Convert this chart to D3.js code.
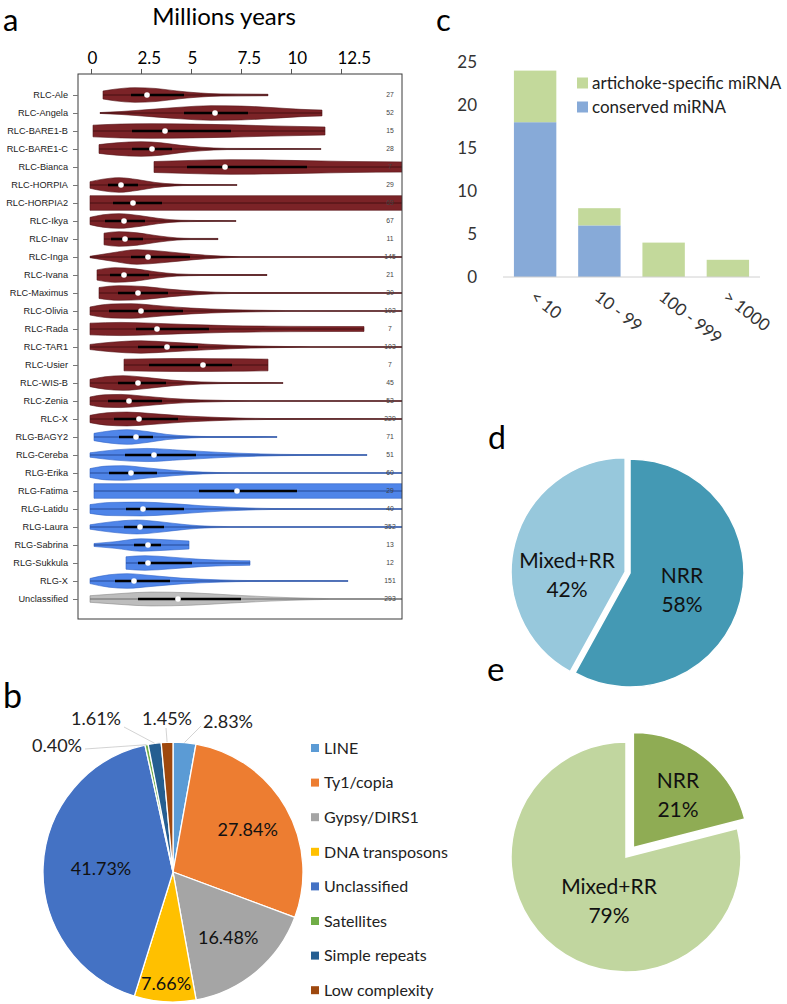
<!DOCTYPE html>
<html><head><meta charset="utf-8">
<script src="https://cdn.jsdelivr.net/npm/d3@7"></script>
<style>body{margin:0;background:#fff}svg{display:block}</style>
</head><body>
<svg id="chart" width="787" height="1004"></svg>
<script>
// ---------------- DATA ----------------
// Panel a: violin plots of insertion age (millions of years)
const vioNames = ["RLC-Ale","RLC-Angela","RLC-BARE1-B","RLC-BARE1-C","RLC-Bianca","RLC-HORPIA","RLC-HORPIA2","RLC-Ikya","RLC-Inav","RLC-Inga","RLC-Ivana","RLC-Maximus","RLC-Olivia","RLC-Rada","RLC-TAR1","RLC-Usier","RLC-WIS-B","RLC-Zenia","RLC-X","RLG-BAGY2","RLG-Cereba","RLG-Erika","RLG-Fatima","RLG-Latidu","RLG-Laura","RLG-Sabrina","RLG-Sukkula","RLG-X","Unclassified"];
const vioGroup = ["RLC","RLC","RLC","RLC","RLC","RLC","RLC","RLC","RLC","RLC","RLC","RLC","RLC","RLC","RLC","RLC","RLC","RLC","RLC","RLG","RLG","RLG","RLG","RLG","RLG","RLG","RLG","RLG","U"];
const vioCounts = [27,52,15,28,7,29,69,67,11,145,21,30,102,7,103,7,45,53,229,71,51,60,29,40,352,13,12,151,293];
const vioMedian = [2.8,6.2,3.7,3.05,6.7,1.5,2.1,1.65,1.7,2.85,1.65,2.35,2.5,3.3,3.8,5.6,2.35,1.9,2.4,2.25,3.15,2.0,7.3,2.6,2.45,2.85,2.85,2.15,4.35];
const vioQ1 = [2.0,4.65,2.05,2.05,4.8,0.85,1.1,0.7,1.0,2.0,0.95,1.35,0.9,2.25,2.35,2.9,1.35,0.85,1.15,1.4,1.7,0.9,5.4,1.75,1.65,2.15,2.35,1.2,2.35];
const vioQ3 = [4.65,7.85,7.0,4.05,10.8,2.35,3.55,2.7,2.6,4.95,2.9,3.85,4.6,5.9,5.35,7.05,3.75,3.55,4.35,3.1,5.25,3.3,10.3,4.65,3.65,3.5,5.05,3.95,7.5];
// density profile of each violin: [age, relative half-width]
const vioShape = [
  [[0.6,0.55],[1.2,0.8],[2.2,1.0],[3.2,0.9],[4.3,0.55],[5.3,0.3],[6.5,0.15],[8.85,0.1]],
  [[0.45,0.06],[1.5,0.2],[3,0.5],[4.5,0.8],[6,1.0],[7.5,0.95],[9,0.75],[10.5,0.5],[11.55,0.4]],
  [[0.1,0.8],[1.5,0.95],[3,1.0],[5,0.95],[7,0.85],[9,0.7],[11.7,0.55]],
  [[0.4,0.6],[1.3,0.85],[2.5,1.0],[3.5,0.85],[4.5,0.5],[5.5,0.25],[6.8,0.08],[11.5,0.05]],
  [[3.15,0.75],[5,0.9],[7,1.0],[9,0.95],[11,0.85],[13,0.75],[15.6,0.7]],
  [[-0.05,0.45],[0.6,0.8],[1.4,1.0],[2.3,0.75],[3.2,0.35],[4.2,0.12],[5,0.06],[7.3,0.05]],
  [[-0.05,1.0],[15.6,1.0]],
  [[-0.05,0.5],[0.6,0.85],[1.4,1.0],[2.4,0.75],[3.4,0.35],[4.5,0.1],[5.5,0.06],[7.25,0.05]],
  [[0.65,0.8],[1.4,1.0],[2.3,0.85],[3.3,0.45],[4.3,0.15],[5,0.08],[6.35,0.08]],
  [[-0.05,0.1],[1,0.55],[2.3,1.0],[3.5,0.8],[5,0.4],[6.5,0.12],[7.5,0.05],[15.6,0.04]],
  [[0.3,0.7],[1.2,1.0],[2.2,0.85],[3.2,0.45],[4.3,0.15],[5.5,0.07],[8.8,0.06]],
  [[0.4,0.75],[1.4,1.0],[2.6,0.9],[4,0.5],[5.5,0.2],[7,0.07],[15.6,0.04]],
  [[-0.05,0.55],[1,0.95],[2,1.0],[3.5,0.7],[5,0.4],[7,0.18],[9,0.08],[10.5,0.05],[15.6,0.04]],
  [[-0.05,0.8],[1.5,0.9],[3,0.8],[5,0.6],[7,0.45],[9,0.38],[11,0.35],[13.65,0.33]],
  [[-0.05,0.35],[1,0.65],[2.5,0.85],[4,0.65],[6,0.35],[8,0.15],[10,0.06],[11,0.04],[15.6,0.04]],
  [[1.65,0.8],[3,0.85],[5,0.9],[7,0.85],[8.85,0.8]],
  [[-0.05,0.5],[0.7,0.85],[1.6,1.0],[2.8,0.75],[4,0.4],[5.5,0.15],[7.3,0.06],[9.6,0.05]],
  [[-0.05,0.55],[0.7,0.85],[1.5,0.9],[2.5,0.7],[4,0.35],[5.5,0.15],[8,0.05],[15.6,0.04]],
  [[-0.05,0.5],[0.8,0.85],[1.8,0.95],[3,0.75],[4.5,0.45],[6.5,0.2],[9,0.06],[15.6,0.04]],
  [[0.15,0.5],[1,0.85],[1.8,1.0],[2.8,0.75],[3.8,0.35],[5,0.12],[6,0.06],[9.3,0.05]],
  [[-0.05,0.3],[1.2,0.7],[2.8,0.9],[4.5,0.65],[6.5,0.35],[8.5,0.15],[10.5,0.06],[13.8,0.05]],
  [[-0.05,0.6],[0.8,0.95],[1.6,1.0],[2.8,0.7],[4.2,0.35],[5.6,0.12],[7,0.05],[15.6,0.04]],
  [[0.15,1.0],[15.6,1.0]],
  [[-0.05,0.6],[1,0.9],[2.5,0.95],[4,0.75],[5.5,0.45],[7.5,0.18],[9,0.07],[15.6,0.04]],
  [[-0.05,0.3],[1,0.7],[2.3,0.95],[3.5,0.7],[4.8,0.3],[6,0.1],[7,0.05],[15.6,0.04]],
  [[0.15,0.2],[1.2,0.45],[2.5,0.85],[3.5,0.75],[4.9,0.55]],
  [[1.75,0.85],[2.7,1.0],[4,0.8],[5.5,0.5],[7,0.35],[7.95,0.3]],
  [[-0.05,0.35],[0.9,0.85],[1.8,1.0],[3,0.75],[4.5,0.4],[6.5,0.15],[8,0.06],[12.85,0.05]],
  [[-0.05,0.45],[1.5,0.75],[3,0.95],[5,0.85],[7,0.55],[9,0.28],[11,0.1],[12,0.05],[15.6,0.04]]
];
const ageTicks = [0,2.5,5,7.5,10,12.5];

// Panel b: repeat composition
const repeatNames = ["LINE","Ty1/copia","Gypsy/DIRS1","DNA transposons","Unclassified","Satellites","Simple repeats","Low complexity"];
const repeatPct = [2.83,27.84,16.48,7.66,41.73,0.40,1.61,1.45];
const repeatColors = ["#5b9bd5","#ed7d31","#a5a5a5","#ffc000","#4472c4","#70ad47","#255e91","#9e480e"];

// Panel c: miRNA counts by abundance class
const mirnaCats = ["< 10","10 - 99","100 - 999","> 1000"];
const mirnaConserved = [18,6,0,0];
const mirnaSpecific = [6,2,4,2];
const mirnaTicks = [0,5,10,15,20,25];

// Panels d and e
const dNames = ["NRR","Mixed+RR"];
const dValues = [58,42];
const eNames = ["NRR","Mixed+RR"];
const eValues = [21,79];

// ---------------- DRAW ----------------
const CAL = "Lato, 'Open Sans', sans-serif";
const ARIAL = "'Liberation Sans', Arial, sans-serif";
const svg = d3.select("#chart");

// panel letters
const letters = [["a",3,31,31],["b",3,708,34],["c",436,31,31],["d",488,449,32],["e",487,681,33]];
svg.selectAll("text.letter").data(letters).join("text").attr("class","letter")
  .attr("x",d=>d[1]).attr("y",d=>d[2]).text(d=>d[0])
  .style("font-family",CAL).style("font-size",d=>d[3]+"px").attr("fill","#000");

// ===== Panel a =====
const box = {x0:78, x1:402, y0:74, y1:619};
const ax = d3.scaleLinear().domain([0,12.5]).range([91,341]);
const ay = d3.scalePoint().domain(vioNames).range([95,599]);
const pal = {
  RLC:{fill:"#7b2327", stroke:"#561417", line:"#3a0a0c"},
  RLG:{fill:"#4f85e9", stroke:"#3365c8", line:"#1c3a80"},
  U:{fill:"#bdbdbd", stroke:"#8c8c8c", line:"#555"}
};
const HW = 7.3;
svg.append("text").attr("x",224).attr("y",25).attr("text-anchor","middle")
  .style("font-family",CAL).style("font-size","24px").text("Millions years");

svg.append("defs").append("clipPath").attr("id","clipA").append("rect")
  .attr("x",box.x0).attr("y",box.y0).attr("width",box.x1-box.x0).attr("height",box.y1-box.y0);

const gA = svg.append("g").attr("clip-path","url(#clipA)");
vioNames.forEach((n,i)=>{
  const cy = ay(n), c = pal[vioGroup[i]], sh = vioShape[i];
  const area = d3.area().x(d=>ax(d[0])).y0(d=>cy - d[1]*HW).y1(d=>cy + d[1]*HW).curve(d3.curveMonotoneX);
  gA.append("path").attr("d",area(sh)).attr("fill",c.fill).attr("stroke",c.stroke).attr("stroke-width",0.6);
  gA.append("line").attr("x1",ax(sh[0][0])).attr("x2",ax(sh[sh.length-1][0])).attr("y1",cy).attr("y2",cy)
    .attr("stroke",c.line).attr("stroke-width",0.8);
  gA.append("line").attr("x1",ax(vioQ1[i])).attr("x2",ax(vioQ3[i])).attr("y1",cy).attr("y2",cy)
    .attr("stroke","#000").attr("stroke-width",2.6);
  gA.append("circle").attr("cx",ax(vioMedian[i])).attr("cy",cy).attr("r",2.8).attr("fill","#fff");
});
// counts
svg.selectAll("text.cnt").data(vioNames).join("text").attr("class","cnt")
  .attr("x",390).attr("y",d=>ay(d)).attr("dy","0.35em").attr("text-anchor","middle")
  .style("font-family",ARIAL).style("font-size","6.8px").attr("fill","#444")
  .text((d,i)=>vioCounts[i]);
// box
svg.append("rect").attr("x",box.x0).attr("y",box.y0).attr("width",box.x1-box.x0).attr("height",box.y1-box.y0)
  .attr("fill","none").attr("stroke","#3a3a3a").attr("stroke-width",1);
// top axis
const topAxis = svg.append("g").attr("transform",`translate(0,${box.y0})`)
  .call(d3.axisTop(ax).tickValues(ageTicks).tickSize(5).tickPadding(5).tickFormat(d3.format("")));
topAxis.select(".domain").remove();
topAxis.selectAll("line").attr("stroke","#555");
topAxis.selectAll("text").attr("text-anchor","start").attr("dx",-4)
  .style("font-family",CAL).style("font-size","17px").attr("fill","#000");
// left axis
const leftAxis = svg.append("g").attr("transform",`translate(${box.x0},0)`)
  .call(d3.axisLeft(ay).tickSize(5).tickPadding(5));
leftAxis.select(".domain").remove();
leftAxis.selectAll("line").attr("stroke","#777");
leftAxis.selectAll("text").style("font-family",ARIAL).style("font-size","9.2px").attr("fill","#222");

// ===== Panel b =====
const bC = [173,872], bR = 130;
const gB = svg.append("g").attr("transform",`translate(${bC[0]},${bC[1]})`);
const pieB = d3.pie().sort(null).value(d=>d)(repeatPct);
const arcB = d3.arc().innerRadius(0).outerRadius(bR);
gB.selectAll("path").data(pieB).join("path").attr("d",arcB)
  .attr("fill",(d,i)=>repeatColors[i]).attr("stroke","#fff").attr("stroke-width",1.3);
// inner labels (large slices)
const innerR = {1:86, 2:86, 3:112, 4:72};
pieB.forEach((d,i)=>{
  if (!(i in innerR)) return;
  const a = (d.startAngle+d.endAngle)/2, r = innerR[i];
  gB.append("text").attr("x",r*Math.sin(a)).attr("y",-r*Math.cos(a)).attr("dy","0.36em")
    .attr("text-anchor","middle").style("font-family",CAL).style("font-size","18px").attr("fill","#111")
    .text(repeatPct[i].toFixed(2)+"%");
});
// outside labels with leader lines
const outerLab = {0:{x:203,y:728,lx:201,ly:726}, 7:{x:142,y:725,lx:166,ly:728}, 6:{x:71,y:725,lx:124,ly:727}, 5:{x:32,y:752,lx:85,ly:749}};
Object.keys(outerLab).forEach(k=>{
  const i = +k, d = pieB[i], L = outerLab[k];
  const a = (d.startAngle+d.endAngle)/2;
  svg.append("line").attr("x1",L.lx).attr("y1",L.ly)
    .attr("x2",bC[0]+bR*Math.sin(a)).attr("y2",bC[1]-bR*Math.cos(a))
    .attr("stroke","#c8c8c8").attr("stroke-width",0.8);
  svg.append("text").attr("x",L.x).attr("y",L.y).style("font-family",CAL).style("font-size","18px")
    .attr("fill","#222").text(repeatPct[i].toFixed(2)+"%");
});
// legend
const legB = svg.append("g");
repeatNames.forEach((n,i)=>{
  const y = 748 + i*34.6;
  legB.append("rect").attr("x",311).attr("y",y-4).attr("width",8).attr("height",8).attr("fill",repeatColors[i]);
  legB.append("text").attr("x",324).attr("y",y).attr("dy","0.36em").style("font-family",CAL)
    .style("font-size","16px").attr("fill","#222").text(n);
});

// ===== Panel c =====
const cx = d3.scaleBand().domain(mirnaCats).range([503,760]).paddingInner(0.34).paddingOuter(0.17);
const cy = d3.scaleLinear().domain([0,25]).range([277,62]);
const gC = svg.append("g");
mirnaCats.forEach((c,i)=>{
  gC.append("rect").attr("x",cx(c)).attr("width",cx.bandwidth())
    .attr("y",cy(mirnaConserved[i])).attr("height",cy(0)-cy(mirnaConserved[i])).attr("fill","#87aad8");
  gC.append("rect").attr("x",cx(c)).attr("width",cx.bandwidth())
    .attr("y",cy(mirnaConserved[i]+mirnaSpecific[i])).attr("height",cy(mirnaConserved[i])-cy(mirnaConserved[i]+mirnaSpecific[i]))
    .attr("fill","#c3d99b");
});
gC.append("line").attr("x1",503).attr("x2",760).attr("y1",cy(0)).attr("y2",cy(0)).attr("stroke","#d0d0d0").attr("stroke-width",1);
gC.selectAll("text.yt").data(mirnaTicks).join("text").attr("class","yt")
  .attr("x",477).attr("y",d=>cy(d)).attr("dy","0.36em").attr("text-anchor","end")
  .style("font-family",CAL).style("font-size","17px").attr("fill","#333").text(d=>d);
gC.selectAll("text.xt").data(mirnaCats).join("text").attr("class","xt")
  .attr("transform",d=>`translate(${cx(d)+cx.bandwidth()/2-6},${299}) rotate(38)`)
  .style("font-family",CAL).style("font-size","17px").attr("fill","#333").text(d=>d);
const legC = [["artichoke-specific miRNA","#c3d99b",83],["conserved miRNA","#87aad8",107]];
legC.forEach(l=>{
  gC.append("rect").attr("x",577).attr("y",l[2]-5.5).attr("width",11).attr("height",11).attr("fill",l[1]);
  gC.append("text").attr("x",592).attr("y",l[2]).attr("dy","0.36em").style("font-family",CAL)
    .style("font-size","17px").attr("fill","#222").text(l[0]);
});

// ===== Panels d and e =====
function explodedPie(values, names, center, r, explode, colors, labels){
  const g = svg.append("g");
  const p = d3.pie().sort(null).value(d=>d)(values);
  const arc = d3.arc().innerRadius(0).outerRadius(r);
  p.forEach((d,i)=>{
    const a = (d.startAngle+d.endAngle)/2, e = explode[i];
    g.append("path").attr("d",arc(d))
      .attr("transform",`translate(${center[0]+e*Math.sin(a)},${center[1]-e*Math.cos(a)})`)
      .attr("fill",colors[i]).attr("stroke","#fff").attr("stroke-width",1.5);
  });
  p.forEach((d,i)=>{
    const L = labels[i];
    g.append("text").attr("x",L[0]).attr("y",L[1]).attr("text-anchor","middle").style("font-family",CAL)
      .style("font-size","21px").attr("fill","#111").text(names[i]);
    g.append("text").attr("x",L[0]).attr("y",L[1]+29).attr("text-anchor","middle").style("font-family",CAL)
      .style("font-size","21px").attr("fill","#111").text(values[i]+"%");
  });
}
explodedPie(dValues, dNames, [630,573], 114, [0,5], ["#4499b4","#97c8dc"], [[682,583],[567,568]]);
explodedPie(eValues, eNames, [626,857], 115, [12,0], ["#8fac54","#c1d69f"], [[678,788],[609,894]]);
</script>
</body></html>
